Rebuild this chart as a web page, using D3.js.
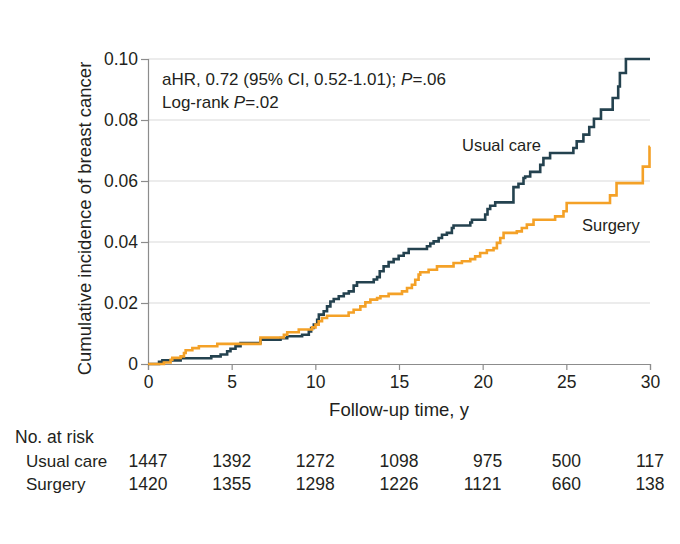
<!DOCTYPE html>
<html>
<head>
<meta charset="utf-8">
<script src="https://cdn.jsdelivr.net/npm/d3@7/dist/d3.min.js"></script>
<style>
  html, body { margin: 0; padding: 0; background: #fff; }
  svg { display: block; font-family: "Liberation Sans", Arial, "DejaVu Sans", sans-serif; }
</style>
</head>
<body>
<svg id="chart" width="680" height="544"></svg>
<script>
// ---- data ----
const usualTimes = [0, 0.66, 0.86, 1.95, 3.78, 4.34, 4.73, 4.93, 5.23, 5.53, 6.72, 7.92, 8.32, 9.21, 9.61, 9.75, 9.91, 10.11, 10.21, 10.50, 10.70, 10.90, 11.10, 11.40, 11.70, 12.00, 12.29, 12.49, 13.49, 13.69, 13.85, 14.08, 14.38, 14.68, 14.98, 15.28, 15.58, 16.67, 16.87, 17.07, 17.37, 17.57, 17.86, 18.16, 18.26, 19.26, 19.36, 20.15, 20.29, 20.45, 20.75, 21.84, 22.14, 22.44, 22.54, 22.84, 23.44, 23.63, 24.03, 25.42, 25.62, 26.02, 26.37, 26.65, 27.07, 27.77, 28.10, 28.20, 28.56, 30];
const usualValues = [0, 0.0007, 0.0012, 0.0019, 0.0025, 0.0031, 0.0042, 0.0050, 0.0058, 0.0069, 0.0080, 0.0085, 0.0091, 0.0096, 0.0107, 0.0118, 0.0129, 0.0145, 0.0162, 0.0173, 0.0189, 0.0205, 0.0213, 0.0222, 0.0231, 0.0238, 0.0257, 0.0268, 0.0277, 0.0285, 0.0304, 0.0320, 0.0334, 0.0344, 0.0355, 0.0364, 0.0377, 0.0386, 0.0395, 0.0402, 0.0413, 0.0424, 0.0430, 0.0446, 0.0454, 0.0464, 0.0473, 0.0490, 0.0508, 0.0519, 0.0530, 0.0580, 0.0591, 0.0610, 0.0615, 0.0630, 0.0653, 0.0675, 0.0692, 0.0708, 0.0730, 0.0752, 0.0777, 0.0804, 0.0834, 0.0872, 0.0910, 0.0954, 0.1000, 0.1000];
const surgeryTimes = [0, 0.95, 1.35, 1.45, 1.95, 2.15, 2.25, 2.65, 3.04, 4.14, 6.72, 8.12, 8.32, 9.01, 9.81, 10.01, 10.20, 10.40, 10.70, 11.99, 12.29, 12.69, 12.99, 13.29, 13.69, 13.89, 14.38, 15.18, 15.48, 15.77, 15.97, 16.17, 16.27, 16.77, 17.27, 18.26, 18.76, 19.26, 19.55, 19.85, 20.25, 20.65, 20.85, 21.05, 21.25, 22.04, 22.34, 22.64, 23.04, 24.33, 24.83, 25.02, 27.61, 28.00, 29.57, 29.97, 30];
const surgeryValues = [0, 0.0005, 0.0014, 0.0020, 0.0025, 0.0036, 0.0045, 0.0052, 0.0058, 0.0066, 0.0087, 0.0096, 0.0104, 0.0113, 0.0120, 0.0129, 0.0140, 0.0151, 0.0158, 0.0169, 0.0178, 0.0189, 0.0202, 0.0211, 0.0216, 0.0222, 0.0230, 0.0238, 0.0249, 0.0260, 0.0276, 0.0293, 0.0301, 0.0309, 0.0320, 0.0331, 0.0337, 0.0344, 0.0353, 0.0364, 0.0373, 0.0380, 0.0397, 0.0413, 0.0430, 0.0435, 0.0446, 0.0457, 0.0473, 0.0484, 0.0501, 0.0528, 0.0553, 0.0593, 0.0647, 0.0712, 0.0712];

const xTicks = [0, 5, 10, 15, 20, 25, 30];
const yTicks = [0, 0.02, 0.04, 0.06, 0.08, 0.10];
const yTickLabels = ["0", "0.02", "0.04", "0.06", "0.08", "0.10"];
const riskGroups = ["Usual care", "Surgery"];
const riskUsual = ["1447", "1392", "1272", "1098", "\u2007975", "500", "117"];
const riskSurgery = ["1420", "1355", "1298", "1226", "1121", "660", "138"];

(function () {
// ---- layout ----
const svg = d3.select("#chart");
const mLeft = 148, mRight = 650, mTop = 59, mBottom = 364;
const x = d3.scaleLinear().domain([0, 30]).range([mLeft, mRight]);
const y = d3.scaleLinear().domain([0, 0.10]).range([mBottom, mTop]);

const darkColor = "#24424f";
const orangeColor = "#f4a127";
const axisColor = "#8c8c8c";
const textColor = "#231f20";

// gridlines
svg.append("g")
  .selectAll("line")
  .data(yTicks.filter(d => d > 0))
  .join("line")
  .attr("x1", mLeft).attr("x2", mRight)
  .attr("y1", d => y(d)).attr("y2", d => y(d))
  .attr("stroke", "#d9d9d9").attr("stroke-width", 1);

// y axis
const yAxis = svg.append("g")
  .attr("transform", `translate(${mLeft},0)`)
  .call(d3.axisLeft(y).tickValues(yTicks).tickFormat((d, i) => yTickLabels[i]).tickSize(7).tickPadding(3));
yAxis.select(".domain").attr("stroke", axisColor).attr("stroke-width", 1.2);
yAxis.selectAll(".tick line").attr("stroke", axisColor).attr("stroke-width", 1.2);
yAxis.selectAll(".tick text").attr("fill", textColor).style("font-size", "17.5px")
  .style("font-family", "'Liberation Sans', Arial, sans-serif");

// x axis
const xAxis = svg.append("g")
  .attr("transform", `translate(0,${mBottom})`)
  .call(d3.axisBottom(x).tickValues(xTicks).tickFormat(d3.format("d")).tickSize(6).tickPadding(6));
xAxis.select(".domain").attr("stroke", axisColor).attr("stroke-width", 1.2);
xAxis.selectAll(".tick line").attr("stroke", axisColor).attr("stroke-width", 1.2);
xAxis.selectAll(".tick text").attr("fill", textColor).style("font-size", "17.5px")
  .style("font-family", "'Liberation Sans', Arial, sans-serif");

// curves
const line = d3.line().x(d => x(d[0])).y(d => y(d[1])).curve(d3.curveStepAfter);
const usualData = usualTimes.map((t, i) => [t, usualValues[i]]);
const surgeryData = surgeryTimes.map((t, i) => [t, surgeryValues[i]]);

svg.append("path").datum(usualData)
  .attr("d", line).attr("fill", "none")
  .attr("stroke", darkColor).attr("stroke-width", 2.6).attr("stroke-linejoin", "miter");
svg.append("path").datum(surgeryData)
  .attr("d", line).attr("fill", "none")
  .attr("stroke", orangeColor).attr("stroke-width", 2.6).attr("stroke-linejoin", "miter");

// annotation
const ann = svg.append("text").attr("x", 162).attr("y", 85)
  .attr("fill", textColor).style("font-size", "17px");
ann.append("tspan").text("aHR, 0.72 (95% CI, 0.52-1.01); ");
ann.append("tspan").attr("font-style", "italic").text("P");
ann.append("tspan").text("=.06");
const ann2 = svg.append("text").attr("x", 162).attr("y", 108)
  .attr("fill", textColor).style("font-size", "17px");
ann2.append("tspan").text("Log-rank ");
ann2.append("tspan").attr("font-style", "italic").text("P");
ann2.append("tspan").text("=.02");

// series labels
svg.append("text").attr("x", 462).attr("y", 151).attr("fill", textColor)
  .style("font-size", "16.5px").text("Usual care");
svg.append("text").attr("x", 582).attr("y", 231).attr("fill", textColor)
  .style("font-size", "16.5px").text("Surgery");

// axis titles
svg.append("text").attr("x", (mLeft + mRight) / 2).attr("y", 416)
  .attr("text-anchor", "middle").attr("fill", textColor)
  .style("font-size", "18.5px").text("Follow-up time, y");
svg.append("text")
  .attr("transform", `translate(91,${(mTop + mBottom) / 2 + 7}) rotate(-90)`)
  .attr("text-anchor", "middle").attr("fill", textColor)
  .style("font-size", "18.5px").text("Cumulative incidence of breast cancer");

// number at risk table
svg.append("text").attr("x", 15).attr("y", 443).attr("fill", textColor)
  .style("font-size", "17.5px").text("No. at risk");
const rowY = [467, 489.5];
riskGroups.forEach((g, r) => {
  svg.append("text").attr("x", 26).attr("y", rowY[r]).attr("fill", textColor)
    .style("font-size", "17px").text(g);
  const vals = r === 0 ? riskUsual : riskSurgery;
  svg.append("g").selectAll("text")
    .data(vals)
    .join("text")
    .attr("x", (d, i) => x(xTicks[i]))
    .attr("y", rowY[r])
    .attr("text-anchor", "middle")
    .attr("fill", textColor)
    .style("font-size", "17.5px")
    .text(d => d);
});
})();
</script>
</body>
</html>
